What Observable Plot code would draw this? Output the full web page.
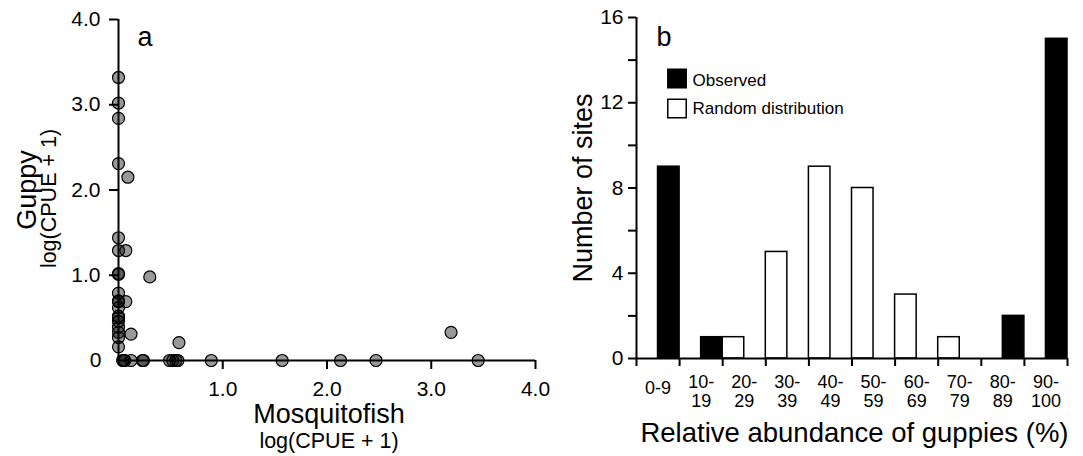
<!DOCTYPE html>
<html><head><meta charset="utf-8">
<script src="https://cdn.jsdelivr.net/npm/d3@7"></script>
<script src="https://cdn.jsdelivr.net/npm/@observablehq/plot@0.6"></script>
<style>
html,body{margin:0;padding:0;background:#fff;}
#wrap{position:relative;width:1083px;height:456px;overflow:hidden;}
#a{position:absolute;left:0;top:0;}
#b{position:absolute;left:560px;top:0;}
</style></head><body>
<div id="wrap"><div id="a"></div><div id="b"></div></div>
<script>
const FONT = "'Liberation Sans', Arial, Helvetica, sans-serif";

// ---- Panel a data: log(CPUE + 1) per site ----
const mosquitofish = [
  0, 0, 0, 0, 0, 0, 0, 0, 0, 0, 0, 0, 0, 0, 0, 0, 0, 0, 0,
  0.09, 0.07, 0.30, 0.07, 0.12, 0.58, 3.19,
  0.04, 0.05, 0.06, 0.12, 0.23, 0.24, 0.49, 0.52, 0.55, 0.57, 0.89, 1.57, 2.13, 2.47, 3.45
];
const guppy = [
  3.32, 3.02, 2.84, 2.31, 1.44, 1.29, 1.02, 1.01, 0.79, 0.70, 0.69, 0.62, 0.52, 0.50, 0.46, 0.39, 0.33, 0.27, 0.16,
  2.15, 1.29, 0.98, 0.69, 0.31, 0.21, 0.33,
  0, 0, 0, 0, 0, 0, 0, 0, 0, 0, 0, 0, 0, 0, 0
];
const ticksA = [1, 2, 3, 4];

// ---- Panel b data ----
const bins = ["0-9", "10-\n19", "20-\n29", "30-\n39", "40-\n49", "50-\n59", "60-\n69", "70-\n79", "80-\n89", "90-\n100"];
const observed = [9, 1, 0, 0, 0, 0, 0, 0, 2, 15];
const random   = [0, 0, 1, 5, 9, 8, 3, 1, 0, 0];
const seriesNames = ["Observed", "Random distribution"];
const ticksB = [0, 4, 8, 12, 16];
const minorB = [2, 6, 10, 14];

// ---------- Panel a ----------
const pts = mosquitofish.map((x, i) => ({x, y: guppy[i]}));
const plotA = Plot.plot({
  width: 560, height: 456,
  marginLeft: 118, marginRight: 25, marginTop: 19, marginBottom: 96,
  x: {domain: [0, 4], label: null},
  y: {domain: [0, 4], label: null},
  style: {fontFamily: FONT, fontSize: "21px", color: "#000", background: "#fff"},
  marks: [
    Plot.dot(pts, {x: "x", y: "y", r: 6, fill: "#000", fillOpacity: 0.4, stroke: "#000", strokeWidth: 1.2}),
    Plot.ruleX([0], {y1: 0, y2: 4, strokeWidth: 2}),
    Plot.ruleY([0], {x1: 0, x2: 4, strokeWidth: 2}),
    Plot.axisX({ticks: ticksA, tickFormat: d => d.toFixed(1), tickSize: 9, tickPadding: 12, strokeWidth: 2, fontSize: 21, label: null}),
    Plot.axisY({ticks: ticksA, tickFormat: d => d.toFixed(1), tickSize: 9, tickPadding: 9, strokeWidth: 2, fontSize: 21, label: null}),
    Plot.axisY({ticks: [0], tickFormat: d => String(d), tickSize: 0, tickPadding: 17, fontSize: 21, label: null}),
    Plot.text(["a"], {text: d => d, frameAnchor: "top-left", dx: 19, dy: 26, textAnchor: "start", lineAnchor: "bottom", fontSize: 27}),
    Plot.text(["Mosquitofish"], {text: d => d, frameAnchor: "bottom", dx: 2, dy: 62, textAnchor: "middle", lineAnchor: "bottom", fontSize: 27}),
    Plot.text(["log(CPUE + 1)"], {text: d => d, frameAnchor: "bottom", dx: 2, dy: 87, textAnchor: "middle", lineAnchor: "bottom", fontSize: 21.5}),
    Plot.text(["Guppy"], {text: d => d, frameAnchor: "left", rotate: -90, dx: -83, dy: 0, textAnchor: "middle", lineAnchor: "bottom", fontSize: 27}),
    Plot.text(["log(CPUE + 1)"], {text: d => d, frameAnchor: "left", rotate: -90, dx: -63, dy: 8.5, textAnchor: "middle", lineAnchor: "bottom", fontSize: 21.5})
  ]
});
document.getElementById("a").appendChild(plotA);

// ---------- Panel b ----------
const tableB = [];
bins.forEach((b, i) => {
  if (random[i] > 0) tableB.push({i, series: seriesNames[1], value: random[i]});
  if (observed[i] > 0) tableB.push({i, series: seriesNames[0], value: observed[i]});
});
const startOf = d => d.i + (d.series === seriesNames[0] ? 0.5 : 0);

const plotB = Plot.plot({
  width: 523, height: 456,
  marginLeft: 76, marginRight: 16, marginTop: 17, marginBottom: 98,
  x: {domain: [0, bins.length], label: null},
  y: {domain: [0, 16], label: null},
  style: {fontFamily: FONT, fontSize: "21px", color: "#000", background: "#fff"},
  marks: [
    Plot.rectY(tableB, {
      x1: startOf, x2: d => startOf(d) + 0.5, y1: 0, y2: "value",
      fill: d => d.series === seriesNames[0] ? "#000" : "#fff",
      stroke: "#000", strokeWidth: 1.5
    }),
    Plot.ruleX([0], {y1: 0, y2: 16, strokeWidth: 2}),
    Plot.ruleY([0], {x1: 0, x2: bins.length, strokeWidth: 2}),
    Plot.axisY({ticks: ticksB, tickSize: 8, tickPadding: 5, strokeWidth: 2, fontSize: 21, label: null}),
    Plot.axisY({ticks: minorB, tickSize: 8, tickFormat: () => "", strokeWidth: 2, label: null}),
    Plot.axisX({ticks: d3.range(bins.length + 1), tickSize: 8, tickFormat: () => "", strokeWidth: 2, label: null}),
    Plot.axisX({ticks: d3.range(1, bins.length).map(i => i + 0.5), tickFormat: d => bins[Math.floor(d)], tickSize: 0, tickPadding: 15, lineHeight: 1.1, fontSize: 18, label: null}),
    Plot.axisX({ticks: [0.5], tickFormat: d => bins[Math.floor(d)], tickSize: 0, tickPadding: 23, fontSize: 18, label: null}),
    Plot.text(["b"], {text: d => d, frameAnchor: "top-left", dx: 20, dy: 28, textAnchor: "start", lineAnchor: "bottom", fontSize: 27}),
    Plot.dot([seriesNames[0]], {frameAnchor: "top-left", dx: 40.5, dy: 61, symbol: "square", r: 10.4, fill: "#000", stroke: "#000", strokeWidth: 1.5}),
    Plot.dot([seriesNames[1]], {frameAnchor: "top-left", dx: 40.5, dy: 91, symbol: "square", r: 10.4, fill: "#fff", stroke: "#000", strokeWidth: 1.5}),
    Plot.text([seriesNames[0]], {text: d => d, frameAnchor: "top-left", dx: 56, dy: 63, textAnchor: "start", lineAnchor: "middle", fontSize: 17}),
    Plot.text([seriesNames[1]], {text: d => d, frameAnchor: "top-left", dx: 56, dy: 91.5, textAnchor: "start", lineAnchor: "middle", fontSize: 17}),
    Plot.text(["Relative abundance of guppies (%)"], {text: d => d, frameAnchor: "bottom", dx: 2.5, dy: 83, textAnchor: "middle", lineAnchor: "bottom", fontSize: 27.5}),
    Plot.text(["Number of sites"], {text: d => d, frameAnchor: "left", rotate: -90, dx: -45, textAnchor: "middle", lineAnchor: "bottom", fontSize: 27})
  ]
});
document.getElementById("b").appendChild(plotB);
</script>
</body></html>
